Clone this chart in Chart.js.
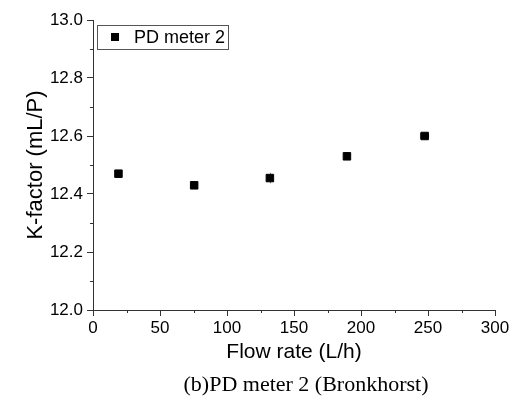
<!DOCTYPE html>
<html>
<head>
<meta charset="utf-8">
<script src="https://cdn.jsdelivr.net/npm/chart.js@4.4.0/dist/chart.umd.min.js"></script>
<style>
  html, body { margin: 0; padding: 0; background: #ffffff; }
  #wrap { width: 519px; height: 398px; }
</style>
</head>
<body>
<div id="wrap"><canvas id="c" width="519" height="398"></canvas></div>
<script>
const flowRate = [19, 75.5, 132, 189.5, 247.5];
const kFactor = [12.47, 12.43, 12.455, 12.53, 12.60];
const flowRateErr = [0, 0, 0, 0, 3.5];
const kFactorErr = [0, 0, 0.018, 0, 0];
const seriesLabel = 'PD meter 2';
const xTitle = 'Flow rate (L/h)';
const yTitle = 'K-factor (mL/P)';
const caption = '(b)PD meter 2 (Bronkhorst)';
const xMajorTicks = [0, 50, 100, 150, 200, 250, 300];
const yMajorTicks = [12.0, 12.2, 12.4, 12.6, 12.8, 13.0];
const xMinorTicks = [25, 75, 125, 175, 225, 275];
const yMinorTicks = [12.1, 12.3, 12.5, 12.7, 12.9];

const axisColor = '#333333';
const sans = "'Liberation Sans', Arial, sans-serif";

const extras = {
  id: 'extras',
  beforeDatasetsDraw(chart) {
    const ctx = chart.ctx;
    const xs = chart.scales.x, ys = chart.scales.y;
    ctx.save();
    ctx.strokeStyle = '#777';
    ctx.lineWidth = 1;
    flowRate.forEach((x, i) => {
      const py = ys.getPixelForValue(kFactor[i]);
      const px = xs.getPixelForValue(x);
      if (flowRateErr[i] > 0) {
        const a = xs.getPixelForValue(x - flowRateErr[i]);
        const b = xs.getPixelForValue(x + flowRateErr[i]);
        ctx.beginPath();
        ctx.moveTo(a, py); ctx.lineTo(b, py);
        ctx.moveTo(Math.round(a) + 0.5, py - 3); ctx.lineTo(Math.round(a) + 0.5, py + 3);
        ctx.moveTo(Math.round(b) - 0.5, py - 3); ctx.lineTo(Math.round(b) - 0.5, py + 3);
        ctx.stroke();
      }
      if (kFactorErr[i] > 0) {
        const a = ys.getPixelForValue(kFactor[i] - kFactorErr[i]);
        const b = ys.getPixelForValue(kFactor[i] + kFactorErr[i]);
        ctx.beginPath();
        ctx.moveTo(Math.round(px) + 0.5, a); ctx.lineTo(Math.round(px) + 0.5, b);
        ctx.stroke();
      }
    });
    ctx.restore();
  },
  afterDraw(chart) {
    const ctx = chart.ctx;
    const xs = chart.scales.x, ys = chart.scales.y;
    const ca = chart.chartArea;
    ctx.save();
    ctx.strokeStyle = axisColor;
    ctx.lineWidth = 1;
    // minor ticks
    xMinorTicks.forEach(v => {
      const p = Math.round(xs.getPixelForValue(v)) + 0.5;
      ctx.beginPath(); ctx.moveTo(p, ca.bottom); ctx.lineTo(p, ca.bottom + 3); ctx.stroke();
    });
    yMinorTicks.forEach(v => {
      const p = Math.round(ys.getPixelForValue(v)) + 0.5;
      ctx.beginPath(); ctx.moveTo(ca.left, p); ctx.lineTo(ca.left - 3, p); ctx.stroke();
    });
    // legend box
    const lx = ca.left + 4, ly = ys.getPixelForValue(13.0) + 5;
    ctx.strokeStyle = '#555555';
    ctx.strokeRect(lx + 0.5, ly + 0.5, 131, 24);
    ctx.fillStyle = '#000';
    ctx.fillRect(lx + 14, ly + 8, 8, 8);
    ctx.font = '18px ' + sans;
    ctx.textBaseline = 'middle';
    ctx.textAlign = 'left';
    ctx.fillText(chart.data.datasets[0].label, lx + 37, ly + 13);
    // caption
    ctx.font = "22px 'Liberation Serif', 'Times New Roman', serif";
    ctx.textAlign = 'center';
    ctx.fillText(caption, (ca.left + ca.right) / 2 + 12, 385);
    ctx.restore();
  }
};

new Chart(document.getElementById('c'), {
  type: 'scatter',
  data: {
    datasets: [{
      label: seriesLabel,
      data: flowRate.map((x, i) => ({ x: x, y: kFactor[i] })),
      pointStyle: 'rect',
      pointRadius: 5.3,
      pointBorderWidth: 1,
      backgroundColor: '#000',
      borderColor: '#000'
    }]
  },
  options: {
    responsive: false,
    animation: false,
    layout: { padding: { left: 0, right: 24, top: 20, bottom: 33 } },
    plugins: { legend: { display: false }, tooltip: { enabled: false } },
    scales: {
      x: {
        type: 'linear', min: 0, max: 300,
        afterBuildTicks: s => { s.ticks = xMajorTicks.map(v => ({ value: v })); },
        afterFit: s => { s.height = 55; },
        grid: { display: true, drawOnChartArea: false, drawTicks: true, tickLength: 6, color: axisColor },
        border: { display: true, color: axisColor, width: 1 },
        ticks: { color: '#000', font: { family: sans, size: 17 }, padding: 2, maxRotation: 0 },
        title: { display: true, text: xTitle, color: '#000', font: { family: sans, size: 21 }, padding: { top: 0, bottom: 0 } }
      },
      y: {
        type: 'linear', min: 12.0, max: 13.0,
        afterBuildTicks: s => { s.ticks = yMajorTicks.map(v => ({ value: v })); },
        afterFit: s => { s.width = 93; },
        grid: { display: true, drawOnChartArea: false, drawTicks: true, tickLength: 6, color: axisColor },
        border: { display: true, color: axisColor, width: 1 },
        ticks: { color: '#000', font: { family: sans, size: 17 }, padding: 4, callback: v => Number(v).toFixed(1) },
        title: { display: true, text: yTitle, color: '#000', font: { family: sans, size: 22 }, padding: { top: 23, bottom: 0 } }
      }
    }
  },
  plugins: [extras]
});
</script>
</body>
</html>
